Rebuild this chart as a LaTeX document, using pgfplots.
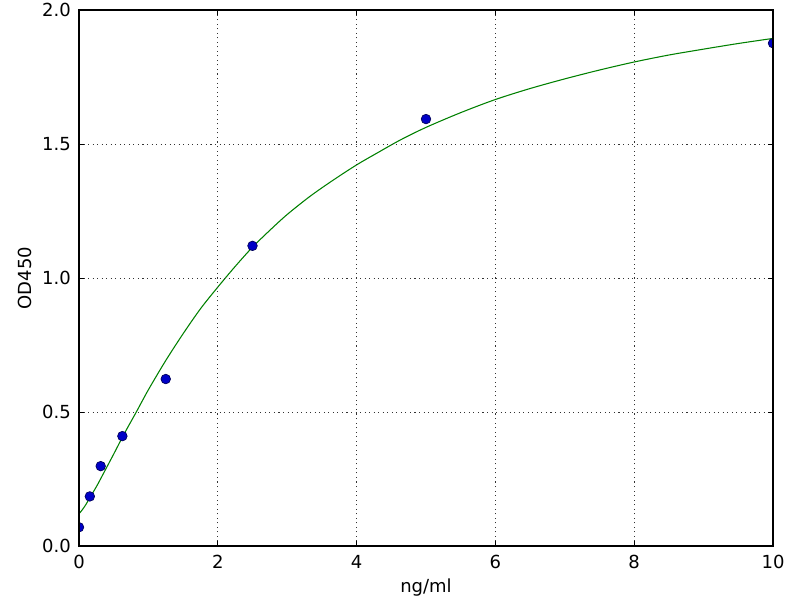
\documentclass[border=0pt]{standalone}
\usepackage{fontspec}
\setmainfont{DejaVu Sans}
\usepackage{pgfplots}
\pgfplotsset{compat=1.18}
\begin{document}
\begin{tikzpicture}[x=1pt,y=1pt]
\useasboundingbox (-59.25pt,-40.5pt) rectangle (540.75pt,409.5pt);
\begin{axis}[
  at={(0pt,0pt)}, anchor=south west,
  scale only axis,
  width=520.5pt, height=402pt,
  xmin=0, xmax=10, ymin=0, ymax=2,
  xtick={0,2,4,6,8,10},
  ytick={0,0.5,1,1.5,2},
  yticklabels={0.0,0.5,1.0,1.5,2.0},
  /pgf/number format/assume math mode=true,
  tick align=inside,
  tick pos=both,
  major tick length=4pt,
  tick style={black, line width=0.6pt},
  axis line style={black, line width=0.8pt},
  grid=major,
  major grid style={black!80, line width=0.6pt, dash pattern=on 0.8pt off 2.6pt},
  ticklabel style={font=\fontsize{13.5}{15}\selectfont},
  label style={font=\fontsize{13.5}{15}\selectfont},
  xticklabel style={inner sep=0pt, yshift=-6.5pt},
  yticklabel style={inner sep=0pt, xshift=-6pt},
  xlabel={ng/ml},
  ylabel={OD450},
  xlabel style={at={(axis description cs:0.5,0)}, anchor=base, yshift=-34.5pt, inner sep=0pt},
  ylabel style={at={(axis description cs:0,0.5)}, anchor=center, yshift=40.5pt, inner sep=0pt},
  clip marker paths=true,
  axis on top,
]
\addplot[color={rgb,1:red,0;green,0.5;blue,0}, line width=0.8pt, smooth, tension=0.5, no markers] coordinates {
(0,0.120) (0.05,0.136) (0.1,0.155) (0.156,0.180) (0.25,0.221) (0.3125,0.251) (0.4,0.294) (0.5,0.343)
(0.65,0.418) (0.83,0.502) (1.0,0.583) (1.25,0.692) (1.5,0.792) (1.75,0.885) (2.0,0.966)
(2.25,1.043) (2.5,1.115) (2.75,1.178) (3.0,1.237) (3.33,1.305) (3.667,1.366) (4.0,1.422) (4.3,1.467) (4.63,1.515) (5.0,1.562)
(5.5,1.617) (6.0,1.666) (6.5,1.707) (7.0,1.743) (7.5,1.776) (8.0,1.806) (8.5,1.832) (9.0,1.854) (9.5,1.875) (10.0,1.894)
};
\addplot[only marks, mark=*, mark size=3.6pt,
  mark options={fill={rgb,1:red,0;green,0;blue,0.78}, draw={rgb,1:red,0;green,0;blue,0.35}, line width=0.5pt}] coordinates {
(0,0.07) (0.156,0.185) (0.3125,0.298) (0.625,0.41) (1.25,0.623) (2.5,1.12) (5,1.593) (10,1.876)
};
\end{axis}
\end{tikzpicture}
\end{document}
